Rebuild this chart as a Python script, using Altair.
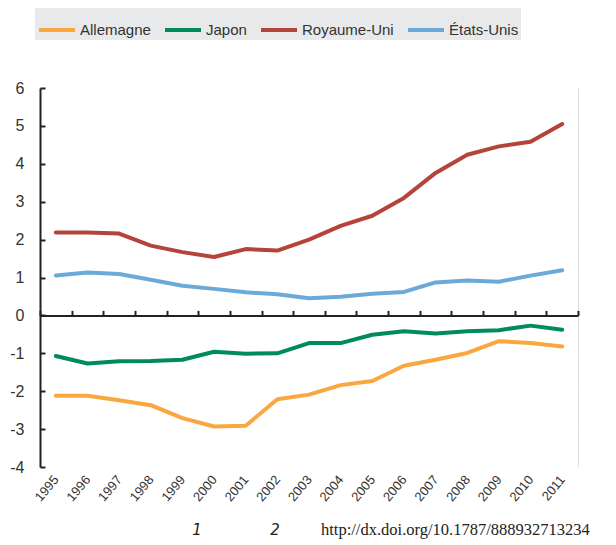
import altair as alt
import pandas as pd

years = list(range(1995, 2012))
series_names = ["Allemagne", "Japon", "Royaume-Uni", "États-Unis"]
colors = ["#f9a73e", "#008c5a", "#b4443a", "#6aaad9"]
allemagne = [-2.12, -2.12, -2.24, -2.37, -2.71, -2.93, -2.91, -2.21, -2.09, -1.84, -1.73, -1.33, -1.17, -0.99, -0.68, -0.73, -0.82]
japon = [-1.07, -1.27, -1.21, -1.20, -1.17, -0.96, -1.01, -1.00, -0.73, -0.73, -0.51, -0.42, -0.48, -0.42, -0.39, -0.27, -0.38]
royaume_uni = [2.19, 2.19, 2.16, 1.84, 1.67, 1.54, 1.75, 1.71, 2.00, 2.36, 2.63, 3.10, 3.76, 4.24, 4.46, 4.58, 5.05]
etats_unis = [1.05, 1.13, 1.09, 0.94, 0.78, 0.70, 0.61, 0.56, 0.45, 0.49, 0.57, 0.62, 0.87, 0.92, 0.89, 1.05, 1.19]
y_ticks = list(range(-4, 7))
footer_texts = ["1", "2", "http://dx.doi.org/10.1787/888932713234"]

W, H = 538, 379
Y_MIN, Y_MAX = -4, 6
boundaries = [y + 0.5 for y in range(1994, 2012)]
inner_boundaries = boundaries[1:-1]

rows = []
for name, vals in zip(series_names, [allemagne, japon, royaume_uni, etats_unis]):
    for yr, v in zip(years, vals):
        rows.append({"year": yr, "serie": name, "value": v})
df = pd.DataFrame(rows)

xscale = alt.Scale(domain=[1994.5, 2011.5], nice=False, zero=False)
yscale = alt.Scale(domain=[Y_MIN, Y_MAX], nice=False, zero=False)
axis_font = "Liberation Sans"

# layer 1: grid + y labels
grid_layer = alt.Chart(df).mark_line(opacity=0).encode(
    x=alt.X("year:Q", scale=xscale, title=None,
            axis=alt.Axis(values=inner_boundaries, grid=True, gridColor="white", gridWidth=1.5,
                          labels=False, ticks=False, domain=False, zindex=0)),
    y=alt.Y("value:Q", scale=yscale, title=None,
            axis=alt.Axis(values=y_ticks, grid=True, gridColor="white", gridWidth=1.5,
                          ticks=False, domain=True, domainColor="#222", domainWidth=2,
                          labelExpr="'' + datum.value",
                          labelFont=axis_font, labelFontSize=16, labelColor="#333",
                          labelPadding=16, zindex=0)),
    detail="serie:N",
)

# layer 2: zero axis with ticks, inner y ticks
zero_offset = -H * Y_MAX / (Y_MAX - Y_MIN)
zero_layer = alt.Chart(df).mark_line(opacity=0).encode(
    x=alt.X("year:Q", scale=xscale, title=None,
            axis=alt.Axis(orient="top", offset=zero_offset, values=boundaries, grid=False,
                          labels=False, ticks=True, tickSize=5, tickColor="#222", tickWidth=2,
                          domain=True, domainColor="#222", domainWidth=2, zindex=1)),
    y=alt.Y("value:Q", scale=yscale, title=None,
            axis=alt.Axis(orient="left", offset=-5, values=y_ticks, grid=False, labels=False,
                          ticks=True, tickSize=5, tickColor="#222", tickWidth=2,
                          domain=False, zindex=1)),
    detail="serie:N",
)

# layer 3: the lines
lines = alt.Chart(df).mark_line(strokeWidth=4, strokeCap="round", strokeJoin="round").encode(
    x=alt.X("year:Q", scale=xscale, title=None,
            axis=alt.Axis(values=years, format="d", labelAngle=-50, labelAlign="right",
                          labelBaseline="middle", labelFont=axis_font, labelFontSize=13,
                          labelColor="#333", labelPadding=10, ticks=False, domain=False,
                          grid=False, labelOverlap=False)),
    y=alt.Y("value:Q", scale=yscale, axis=None),
    color=alt.Color("serie:N", sort=series_names,
                    scale=alt.Scale(domain=series_names, range=colors),
                    legend=alt.Legend(orient="none", legendX=-5, legendY=-80,
                                      direction="horizontal", title=None,
                                      fillColor="#e8e9ea", padding=2,
                                      symbolType="stroke", symbolStrokeWidth=4,
                                      symbolSize=1296, labelFont=axis_font,
                                      labelFontSize=15, labelColor="#333",
                                      columnPadding=6, labelOffset=3)),
)

footer_df = pd.DataFrame({"t": footer_texts})
f1 = alt.Chart(footer_df).transform_filter(alt.datum.t == footer_texts[0]).mark_text(
    font="DejaVu Sans", fontStyle="italic", fontSize=15, color="#222", align="center",
    baseline="alphabetic").encode(text="t:N", x=alt.value(157), y=alt.value(447))
f2 = alt.Chart(footer_df).transform_filter(alt.datum.t == footer_texts[1]).mark_text(
    font="DejaVu Sans", fontStyle="italic", fontSize=15, color="#222", align="center",
    baseline="alphabetic").encode(text="t:N", x=alt.value(235), y=alt.value(447))
f3 = alt.Chart(footer_df).transform_filter(alt.datum.t == footer_texts[2]).mark_text(
    font="Liberation Serif", fontSize=16.5, color="#222", align="left",
    baseline="alphabetic").encode(text="t:N", x=alt.value(281), y=alt.value(447))

chart = alt.layer(grid_layer, zero_layer, lines, f1, f2, f3).resolve_axis(
    x="independent", y="independent"
).properties(
    width=W, height=H,
    autosize=alt.AutoSizeParams(type="none"),
    padding={"left": 32, "top": 80, "right": 30, "bottom": 75},
).configure_view(stroke=None, fill="#e9eaeb").configure(background="white")

chart.save("out.html", embed_options={"renderer": "svg", "actions": False})
